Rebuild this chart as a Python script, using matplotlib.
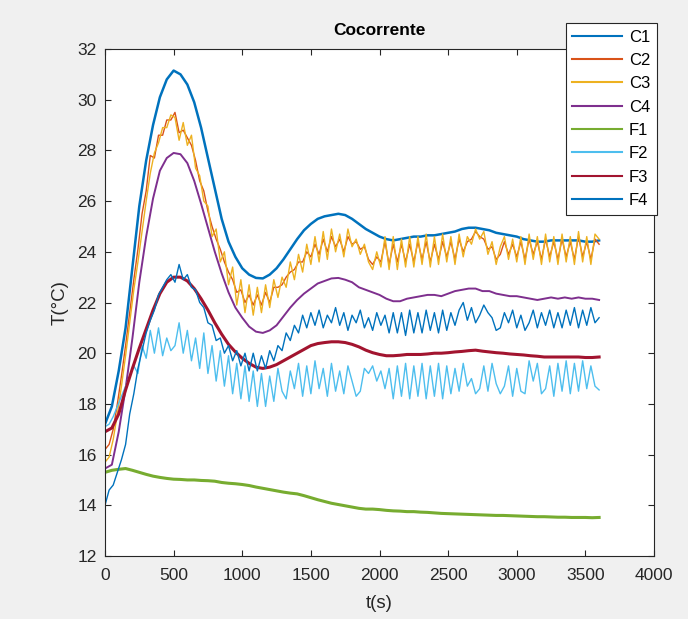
import numpy as np
import matplotlib
matplotlib.use("Agg")
import matplotlib.pyplot as plt

# smooth channels, one reading every 50 s
t_smooth = np.arange(0, 3601, 50)

c1 = [17.2, 17.9, 19.3, 21.0, 23.4, 25.8, 27.6, 29.0, 30.1, 30.8,
      31.15, 31.0, 30.6, 29.9, 28.9, 27.7, 26.5, 25.3, 24.4, 23.8,
      23.35, 23.1, 22.97, 22.95, 23.1, 23.35, 23.7, 24.1, 24.5, 24.85,
      25.1, 25.3, 25.4, 25.45, 25.5, 25.45, 25.3, 25.1, 24.9, 24.75,
      24.6, 24.5, 24.45, 24.5, 24.55, 24.6, 24.6, 24.65, 24.65, 24.7,
      24.75, 24.8, 24.9, 24.95, 24.95, 24.9, 24.85, 24.75, 24.7, 24.65,
      24.6, 24.5, 24.45, 24.4, 24.4, 24.45, 24.45, 24.45, 24.45, 24.45,
      24.4, 24.4, 24.45]

c4 = [15.45, 15.6, 16.9, 18.6, 20.6, 22.8, 24.6, 26.1, 27.2, 27.7,
      27.9, 27.85, 27.5, 26.8, 25.9, 24.95, 24.0, 23.15, 22.4, 21.8,
      21.4, 21.05, 20.85, 20.8, 20.9, 21.1, 21.45, 21.8, 22.1, 22.35,
      22.55, 22.75, 22.85, 22.95, 22.97, 22.9, 22.8, 22.6, 22.5, 22.4,
      22.3, 22.15, 22.05, 22.05, 22.15, 22.2, 22.25, 22.3, 22.3, 22.25,
      22.35, 22.45, 22.5, 22.55, 22.55, 22.45, 22.45, 22.35, 22.3, 22.25,
      22.25, 22.2, 22.15, 22.1, 22.15, 22.2, 22.15, 22.2, 22.15, 22.2,
      22.15, 22.15, 22.1]

f1 = [15.3, 15.38, 15.42, 15.45, 15.38, 15.3, 15.22, 15.15, 15.1, 15.06,
      15.03, 15.02, 15.0, 15.0, 14.98, 14.97, 14.95, 14.9, 14.87, 14.85,
      14.82, 14.78, 14.72, 14.67, 14.62, 14.57, 14.52, 14.48, 14.45, 14.38,
      14.3, 14.22, 14.15, 14.08, 14.03, 13.98, 13.93, 13.88, 13.85, 13.85,
      13.83, 13.8, 13.78, 13.77, 13.75, 13.75, 13.73, 13.72, 13.7, 13.68,
      13.67, 13.66, 13.65, 13.64, 13.63, 13.62, 13.61, 13.6, 13.6, 13.59,
      13.58, 13.57, 13.56, 13.55, 13.55, 13.54, 13.53, 13.53, 13.52, 13.52,
      13.52, 13.51, 13.52]

f3 = [16.9, 17.05, 17.6, 18.55, 19.4, 20.2, 20.95, 21.7, 22.35, 22.8,
      23.0, 23.0, 22.85, 22.55, 22.15, 21.7, 21.2, 20.75, 20.35, 20.05,
      19.8, 19.6, 19.45, 19.4, 19.45, 19.55, 19.7, 19.85, 20.0, 20.15,
      20.3, 20.38, 20.42, 20.45, 20.45, 20.42, 20.35, 20.25, 20.12, 20.02,
      19.95, 19.9, 19.9, 19.92, 19.95, 19.95, 19.95, 19.97, 20.0, 20.0,
      20.02, 20.05, 20.07, 20.1, 20.12, 20.08, 20.05, 20.02, 20.0, 19.97,
      19.95, 19.93, 19.9, 19.88, 19.85, 19.85, 19.85, 19.85, 19.85, 19.85,
      19.83, 19.83, 19.85]

# noisy channels, one reading every 30 s
t_noisy = np.arange(0, 3601, 30)

c2 = [16.2, 16.4, 17.0, 18.0, 19.1, 20.3, 21.6, 22.9, 24.1, 25.5,
      26.4, 27.8, 27.7, 28.6, 28.6, 29.2, 29.2, 29.5, 28.7, 28.8,
      28.5, 28.2, 27.6, 26.8, 26.4, 25.6, 25.0, 24.5, 24.1, 23.6,
      23.2, 22.9, 22.4, 22.5, 22.0, 22.3, 21.9, 22.3, 21.9, 22.4,
      22.0, 22.6, 22.6, 22.7, 23.0, 23.2, 23.3, 23.6, 23.6, 24.0,
      23.8, 24.3, 23.9, 24.5, 24.0, 24.6, 24.2, 24.5, 24.0, 24.6,
      24.3, 24.4, 24.1, 24.2, 23.7, 23.5, 23.8, 23.6, 24.4, 23.5,
      24.3, 23.6, 24.3, 23.6, 24.3, 23.6, 24.4, 23.7, 24.4, 23.6,
      24.3, 23.7, 24.4, 23.8, 24.4, 23.7, 24.5, 24.0, 24.4, 24.5,
      24.8, 24.6, 24.5, 24.1, 24.2, 23.7, 23.9, 24.4, 23.9, 24.3,
      23.8, 24.4, 23.7, 24.5, 23.9, 24.4, 23.7, 24.5, 23.8, 24.4,
      23.7, 24.5, 23.8, 24.4, 23.7, 24.6, 23.8, 24.4, 23.7, 24.5,
      24.3]

c3 = [15.7, 15.9, 16.6, 17.6, 18.7, 19.9, 21.2, 22.5, 23.6, 24.8,
      26.0, 27.1, 27.9, 28.3, 28.9, 28.9, 29.4, 29.3, 28.4, 29.1,
      28.2, 28.6, 27.3, 27.0, 26.0, 25.8, 24.6, 24.9, 23.6, 24.0,
      22.7, 23.4, 21.9, 22.9, 21.6, 22.7, 21.5, 22.6, 21.6, 22.7,
      21.8, 22.9, 22.2, 23.0, 22.6, 23.6, 22.9, 23.9, 23.2, 24.3,
      23.5, 24.6, 23.6, 24.8, 23.7, 24.9, 24.0, 24.7, 23.8, 24.9,
      24.2, 24.5, 23.9, 24.3, 23.6, 23.3, 24.0, 23.4, 24.6, 23.3,
      24.6, 23.3, 24.5, 23.4, 24.6, 23.4, 24.6, 23.5, 24.7, 23.4,
      24.6, 23.5, 24.7, 23.6, 24.6, 23.5, 24.7, 23.8, 24.6, 24.3,
      24.9, 24.5, 24.8, 23.9, 24.4, 23.5, 24.2, 24.6, 23.7, 24.5,
      23.6, 24.6, 23.5, 24.7, 23.7, 24.6, 23.5, 24.7, 23.6, 24.6,
      23.5, 24.7, 23.6, 24.6, 23.5, 24.8, 23.6, 24.6, 23.5, 24.7,
      24.5]

f2 = [17.1, 17.2, 17.5, 17.9, 18.3, 18.7, 19.1, 19.5, 19.2, 20.3,
      19.8, 20.9, 20.0, 21.0, 19.9, 20.6, 20.1, 20.3, 21.2, 20.0,
      20.9, 19.7, 20.6, 19.4, 20.8, 19.2, 20.3, 18.9, 20.1, 18.7,
      19.9, 18.4, 19.6, 18.2, 19.5, 18.1, 19.3, 17.9, 19.2, 17.9,
      19.1, 18.1, 19.4, 18.5, 18.2, 19.3, 18.6, 19.6, 18.3, 19.5,
      18.4, 19.7, 18.6, 19.4, 18.3, 19.6, 18.5, 19.3, 18.4, 19.5,
      18.9, 18.3, 18.5, 19.4, 19.2, 19.5, 18.9, 19.3, 18.6, 19.4,
      18.2, 19.5, 18.3, 19.6, 18.2, 19.5, 18.3, 19.6, 18.2, 19.5,
      18.3, 19.6, 18.2, 19.5, 18.4, 19.4, 18.5, 19.6, 18.7, 19.0,
      18.4, 18.6, 19.5, 18.5, 19.6, 18.8, 18.4, 18.7, 19.5, 18.3,
      19.4, 18.5, 18.4, 19.7, 18.9, 19.6, 18.4, 18.6, 19.5, 18.3,
      19.6, 18.5, 19.7, 18.4, 19.6, 18.5, 19.7, 18.6, 19.5, 18.7,
      18.55]

f4 = [14.0, 14.6, 14.8, 15.3, 15.8, 16.4, 17.6, 18.4, 19.4, 20.1,
      20.8, 21.3, 21.7, 22.3, 22.6, 22.9, 23.1, 22.8, 23.5, 22.9,
      23.1, 22.6, 22.5, 22.0, 21.8, 21.2, 21.1, 20.5, 20.6, 20.0,
      20.3, 19.7, 20.1, 19.5, 20.0, 19.3, 20.0, 19.3, 19.9, 19.4,
      20.1, 19.7, 20.3, 20.1, 20.8, 20.5, 21.1, 20.8, 21.5, 21.0,
      21.6, 21.1, 21.7, 21.0, 21.5, 21.2, 21.8, 21.1, 21.6, 20.9,
      21.5, 21.2, 21.7, 21.0, 21.4, 20.9, 21.6, 21.1, 21.5, 20.8,
      21.6, 20.8, 21.6, 20.7, 21.7, 20.8, 21.6, 20.8, 21.7, 20.9,
      21.6, 20.8, 21.7, 20.9, 21.6, 21.1, 21.7, 22.0, 21.3, 21.8,
      21.2, 21.5, 21.9, 21.6, 21.4, 20.9, 21.0, 21.6, 21.2, 21.7,
      21.0, 21.5, 20.9, 21.2, 21.7, 21.0, 21.6, 21.1, 21.7, 21.0,
      21.6, 21.0, 21.7, 21.1, 21.8, 21.0, 21.7, 21.1, 21.8, 21.2,
      21.4]

x_ticks = [0, 500, 1000, 1500, 2000, 2500, 3000, 3500, 4000]
y_ticks = [12, 14, 16, 18, 20, 22, 24, 26, 28, 30, 32]

plt.rcParams['font.family'] = ['Liberation Sans', 'DejaVu Sans']
fig = plt.figure(figsize=(6.88, 6.19), dpi=100, facecolor='#f0f0f0')
ax = fig.add_axes([0.1526, 0.1018, 0.7980, 0.8190])

ax.plot(t_smooth, c1, color='#0072BD', lw=1.8, label='C1')
ax.plot(t_noisy, c2, color='#D95319', lw=1.0, label='C2')
ax.plot(t_noisy, c3, color='#EDB120', lw=1.0, label='C3')
ax.plot(t_smooth, c4, color='#7E2F8E', lw=1.4, label='C4')
ax.plot(t_smooth, f1, color='#77AC30', lw=2.2, label='F1')
ax.plot(t_noisy, f2, color='#4DBEEE', lw=1.0, label='F2')
ax.plot(t_smooth, f3, color='#A2142F', lw=2.2, label='F3')
ax.plot(t_noisy, f4, color='#0072BD', lw=1.0, label='F4')

ax.set_xlim(0, 4000)
ax.set_ylim(12, 32)
ax.set_xticks(x_ticks)
ax.set_yticks(y_ticks)
ax.tick_params(direction='in', top=True, right=True, length=4,
               labelsize=12.5, colors='#262626')
ax.tick_params(axis='x', pad=9)
ax.tick_params(axis='y', pad=6)
for s in ax.spines.values():
    s.set_color('#262626')
    s.set_linewidth(0.8)

ax.set_xlabel('t(s)', fontsize=13.5, color='#262626', labelpad=8)
ax.set_ylabel('T(°C)', fontsize=13.5, color='#262626', labelpad=6)
ax.set_title('Cocorrente', fontsize=12.5, fontweight='bold', color='black', pad=10)

leg = ax.legend(loc='upper right', bbox_to_anchor=(0.955, 0.963),
                bbox_transform=fig.transFigure, fontsize=12, fancybox=False,
                framealpha=1, edgecolor='#262626', handlelength=3.0,
                labelspacing=0.5, borderaxespad=0, handletextpad=0.4)
leg.get_frame().set_linewidth(0.8)
for line in leg.get_lines():
    line.set_linewidth(1.5)

fig.savefig('out.png', dpi=100, facecolor=fig.get_facecolor())
